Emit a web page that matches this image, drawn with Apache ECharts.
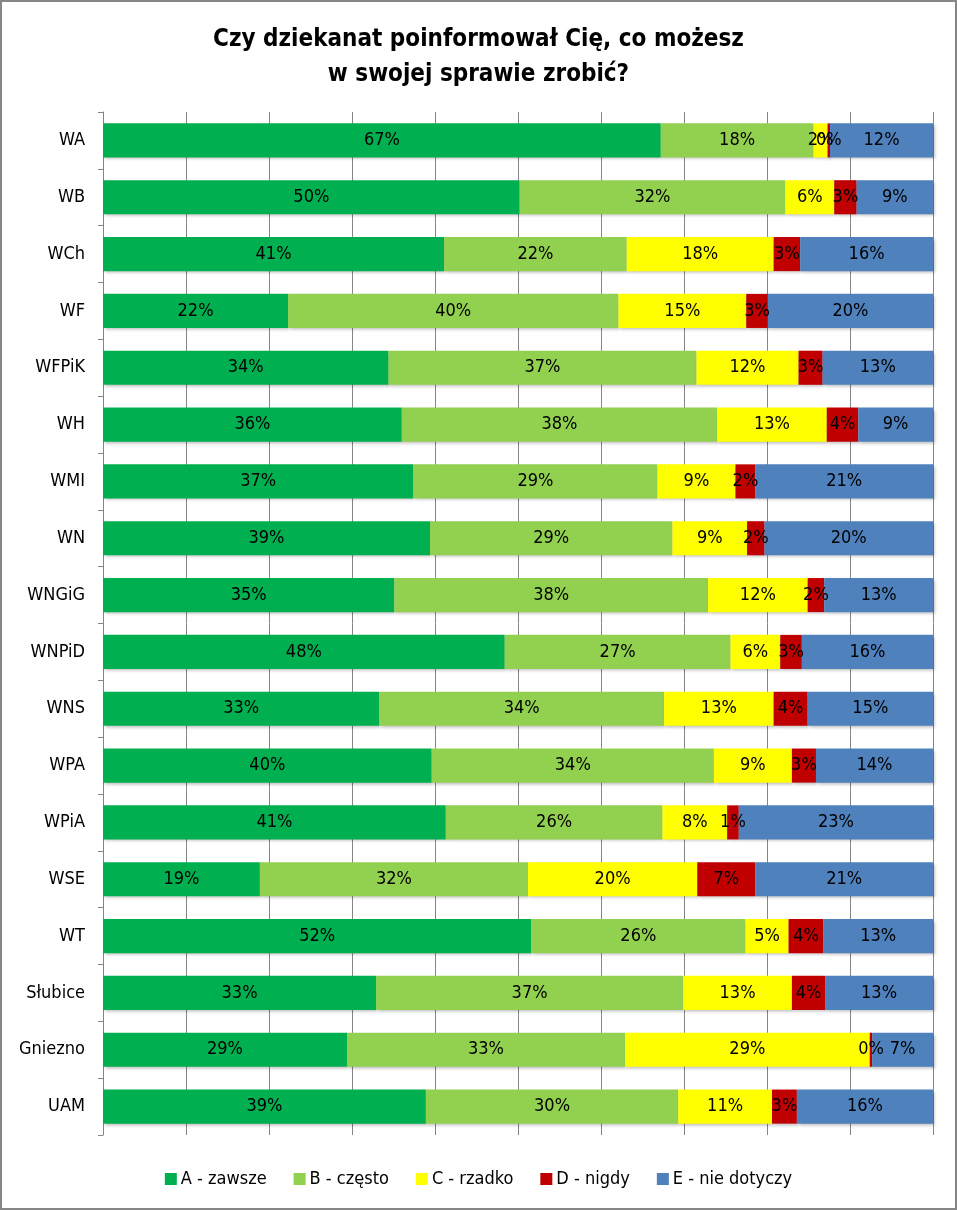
<!DOCTYPE html>
<html>
<head>
<meta charset="utf-8">
<script src="https://cdn.jsdelivr.net/npm/echarts@6/dist/echarts.min.js"></script>
<style>
html,body{margin:0;padding:0;background:#fff;}
#wrap{width:957px;height:1210px;box-sizing:border-box;border:2px solid #868686;position:relative;}
#chart{position:absolute;left:-2px;top:-2px;width:957px;height:1210px;}
</style>
</head>
<body>
<div id="wrap"><div id="chart"></div></div>
<script>
const categories = ['WA','WB','WCh','WF','WFPiK','WH','WMI','WN','WNGiG','WNPiD','WNS','WPA','WPiA','WSE','WT','Słubice','Gniezno','UAM'];
const seriesNames = ['A - zawsze','B - często','C - rzadko','D - nigdy','E - nie dotyczy'];
const zawsze    = [67.2,50.2,41.1,22.3,34.4,36.0,37.4,39.4,35.1,48.4,33.3,39.6,41.3,18.9,51.6,32.9,29.4,38.9];
const czesto    = [18.4,32.0,22.0,39.8,37.1,38.0,29.4,29.2,37.8,27.2,34.3,34.0,26.1,32.3,25.8,37.0,33.49,30.4];
const rzadko    = [1.7,5.9,17.7,15.4,12.3,13.2,9.4,9.0,12.0,6.0,13.2,9.4,7.8,20.4,5.2,13.1,29.49,11.3];
const nigdy     = [0.3,2.7,3.2,2.6,2.9,3.8,2.4,2.1,2.0,2.6,4.1,2.9,1.4,7.0,4.2,4.0,0.3,3.0];
const nieDotyczy= [12.4,9.2,16.0,19.9,13.3,9.0,21.4,20.3,13.1,15.8,15.1,14.1,23.4,21.4,13.2,13.0,7.32,16.4];
const colors = ['#00B050','#92D050','#FFFF00','#C00000','#4F81BD'];
const FONT = '"Liberation Sans Narrow","DejaVu Sans Condensed",Arial,sans-serif';

const dataSets = [zawsze, czesto, rzadko, nigdy, nieDotyczy];
const chart = echarts.init(document.getElementById('chart'));
chart.setOption({
  backgroundColor: 'transparent',
  animation: false,
  textStyle: { fontFamily: FONT },
  title: {
    text: 'Czy dziekanat poinformował Cię, co możesz\nw swojej sprawie zrobić?',
    left: 'center', top: 17,
    textStyle: { fontFamily: FONT, fontSize: 24, fontWeight: 'bold', color: '#000', lineHeight: 35 }
  },
  legend: {
    data: seriesNames,
    bottom: 17, left: 'center',
    itemWidth: 12, itemHeight: 12, itemGap: 27,
    icon: 'rect',
    textStyle: { fontFamily: FONT, fontSize: 18, color: '#000', padding: [0, 0, 0, -1] }
  },
  grid: { left: 103, right: 24, top: 112, bottom: 75, containLabel: false },
  xAxis: {
    type: 'value', min: 0, max: 100, interval: 10,
    axisLabel: { show: false },
    axisLine: { show: false },
    axisTick: { show: false },
    splitLine: { show: true, lineStyle: { color: '#868686', width: 1 } }
  },
  yAxis: {
    type: 'category', data: categories, inverse: true,
    axisLine: { show: true, lineStyle: { color: '#868686', width: 1 } },
    axisTick: { show: true, length: 5, lineStyle: { color: '#868686' } },
    axisLabel: { fontFamily: FONT, fontSize: 18, color: '#000', margin: 18 }
  },
  series: seriesNames.map((n, i) => ({
    name: n, type: 'bar', stack: 'total',
    barCategoryGap: '40%',
    data: dataSets[i],
    itemStyle: { color: colors[i], shadowBlur: 3, shadowOffsetX: 2, shadowOffsetY: 2, shadowColor: 'rgba(0,0,0,0.25)' },
    label: {
      show: true, position: 'inside',
      formatter: p => Math.round(p.value) + '%',
      fontFamily: FONT, fontSize: 18, color: '#000'
    }
  }))
});
</script>
</body>
</html>
